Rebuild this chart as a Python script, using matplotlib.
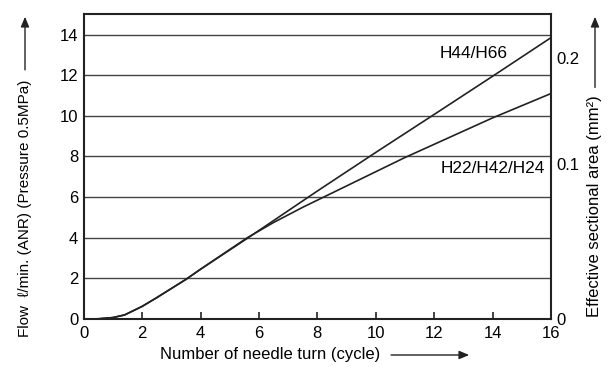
import matplotlib
matplotlib.use("Agg")
import matplotlib.pyplot as plt
from matplotlib.patches import FancyArrowPatch

plt.rcParams['font.family'] = ['Liberation Sans', 'DejaVu Sans']

# Data
turns_h44 = [0, 0.5, 1.0, 1.4, 2.0, 2.5, 3.0, 3.5, 4.0, 5.0, 5.6, 8.0, 10.0, 12.0, 14.0, 16.0]
flow_h44 = [0, 0.01, 0.07, 0.2, 0.62, 1.05, 1.5, 1.95, 2.45, 3.4, 3.97, 6.3, 8.2, 10.07, 11.95, 13.85]

turns_h22 = [0, 0.5, 1.0, 1.4, 2.0, 2.5, 3.0, 3.5, 4.0, 5.0, 5.6, 6.5, 7.5, 8.5, 10.0, 11.0, 12.0, 13.0, 14.0, 15.0, 16.0]
flow_h22 = [0, 0.01, 0.07, 0.2, 0.62, 1.05, 1.5, 1.95, 2.45, 3.42, 4.0, 4.75, 5.5, 6.2, 7.25, 7.95, 8.6, 9.25, 9.9, 10.5, 11.1]

x_ticks = [0, 2, 4, 6, 8, 10, 12, 14, 16]
y_ticks = [0, 2, 4, 6, 8, 10, 12, 14]
area_tick_pos = [0, 7.65, 12.87]
area_tick_labels = ["0", "0.1", "0.2"]

label_h44 = "H44/H66"
label_h22 = "H22/H42/H24"

W, H = 608.0, 367.0
fig = plt.figure(figsize=(W / 100, H / 100), dpi=100)
ax = fig.add_axes([0.1377, 0.1308, 0.9062 - 0.1377, 0.961 - 0.1308])

line_col = '#222222'
ax.plot(turns_h44, flow_h44, color=line_col, lw=1.2)
ax.plot(turns_h22, flow_h22, color=line_col, lw=1.2)

ax.set_xlim(0, 16)
ax.set_ylim(0, 15)
ax.set_xticks(x_ticks)
ax.set_yticks(y_ticks)
for yv in y_ticks[1:]:
    ax.axhline(yv, color='#444444', lw=1.0, zorder=0)

tick_fs = 12
ax.tick_params(axis='x', direction='in', length=5, width=1.2, labelsize=tick_fs, pad=5, color='#222222')
ax.tick_params(axis='y', direction='in', length=0, labelsize=tick_fs, pad=4)
for s in ax.spines.values():
    s.set_linewidth(1.5)
    s.set_color('#222222')

ax2 = ax.twinx()
ax2.set_ylim(0, 15)
ax2.set_yticks(area_tick_pos)
ax2.set_yticklabels(area_tick_labels)
ax2.tick_params(axis='y', length=0, labelsize=tick_fs, pad=4)
for s in ax2.spines.values():
    s.set_visible(False)

ax.text(14.53, 13.07, label_h44, ha='right', va='center', fontsize=12.4)
ax.text(15.8, 7.42, label_h22, ha='right', va='center', fontsize=12.4)

def fx(px):
    return px / W
def fy(py):
    return 1 - py / H

arrow_kw = dict(transform=fig.transFigure, arrowstyle='-|>,head_length=6,head_width=2.5',
                color='#222222', lw=1.0)

fig.canvas.draw()
renderer = fig.canvas.get_renderer()

# x label
tx = fig.text(fx(160), fy(355), "Number of needle turn (cycle)", ha='left', va='center', fontsize=12)
bb = tx.get_window_extent(renderer)
fig.add_artist(FancyArrowPatch((bb.x1 / W + fx(8), fy(355)), (fx(472), fy(355)), **arrow_kw))

# left label
tl = fig.text(fx(25), fy(337), "Flow  \u2113/min. (ANR) (Pressure 0.5MPa)", rotation=90,
              ha='center', va='bottom', fontsize=11)
bb = tl.get_window_extent(renderer)
fig.add_artist(FancyArrowPatch((fx(25), bb.y1 / H + 7 / H), (fx(25), fy(14)), **arrow_kw))

# right label
tr = fig.text(fx(595), fy(317), "Effective sectional area (mm\u00b2)", rotation=90,
              ha='center', va='bottom', fontsize=12)
bb = tr.get_window_extent(renderer)
fig.add_artist(FancyArrowPatch((fx(595), bb.y1 / H + 5 / H), (fx(595), fy(14)), **arrow_kw))

fig.savefig("out.png", dpi=100)
